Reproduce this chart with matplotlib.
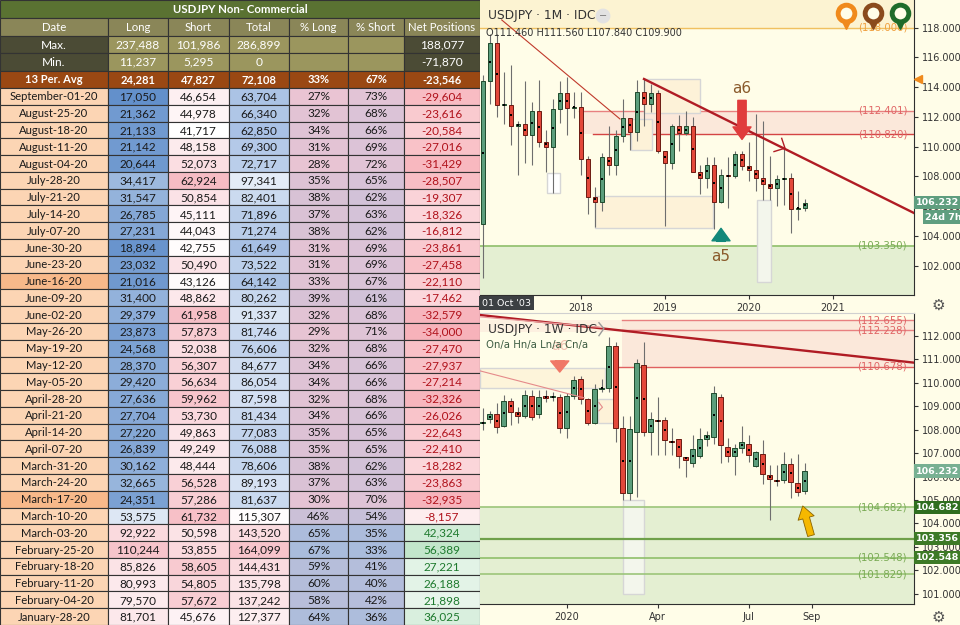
import numpy as np
import matplotlib
matplotlib.use('Agg')
import matplotlib.pyplot as plt
from matplotlib.patches import Rectangle
from matplotlib.colors import to_rgb

# ---------------- table data (COT, USDJPY non-commercial)
dates = ["September-01-20", "August-25-20", "August-18-20", "August-11-20", "August-04-20",
         "July-28-20", "July-21-20", "July-14-20", "July-07-20", "June-30-20", "June-23-20",
         "June-16-20", "June-09-20", "June-02-20", "May-26-20", "May-19-20", "May-12-20",
         "May-05-20", "April-28-20", "April-21-20", "April-14-20", "April-07-20", "March-31-20",
         "March-24-20", "March-17-20", "March-10-20", "March-03-20", "February-25-20",
         "February-18-20", "February-11-20", "February-04-20", "January-28-20"]
longs = [17050, 21362, 21133, 21142, 20644, 34417, 31547, 26785, 27231, 18894, 23032, 21016,
         31400, 29379, 23873, 24568, 28370, 29420, 27636, 27704, 27220, 26839, 30162, 32665,
         24351, 53575, 92922, 110244, 85826, 80993, 79570, 81701]
shorts = [46654, 44978, 41717, 48158, 52073, 62924, 50854, 45111, 44043, 42755, 50490, 43126,
          48862, 61958, 57873, 52038, 56307, 56634, 59962, 53730, 49863, 49249, 48444, 56528,
          57286, 61732, 50598, 53855, 58605, 54805, 57672, 45676]
totals = [63704, 66340, 62850, 69300, 72717, 97341, 82401, 71896, 71274, 61649, 73522, 64142,
          80262, 91337, 81746, 76606, 84677, 86054, 87598, 81434, 77083, 76088, 78606, 89193,
          81637, 115307, 143520, 164099, 144431, 135798, 137242, 127377]
pct_long = [27, 32, 34, 31, 28, 35, 38, 37, 38, 31, 31, 33, 39, 32, 29, 32, 34, 34, 32, 34, 35,
            35, 38, 37, 30, 46, 65, 67, 59, 60, 58, 64]
pct_short = [73, 68, 66, 69, 72, 65, 62, 63, 62, 69, 69, 67, 61, 68, 71, 68, 66, 66, 68, 66, 65,
             65, 62, 63, 70, 54, 35, 33, 41, 40, 42, 36]
net_pos = [-29604, -23616, -20584, -27016, -31429, -28507, -19307, -18326, -16812, -23861,
           -27458, -22110, -17462, -32579, -34000, -27470, -27937, -27214, -32326, -26026,
           -22643, -22410, -18282, -23863, -32935, -8157, 42324, 56389, 27221, 26188, 21898, 36025]
highlight_dates = ["June-16-20", "March-17-20"]

headers = ["Date", "Long", "Short", "Total", "% Long", "% Short", "Net Positions"]
max_row = ["Max.", "237,488", "101,986", "286,899", "", "", "188,077"]
min_row = ["Min.", "11,237", "5,295", "0", "", "", "-71,870"]
avg_row = ["13 Per. Avg", "24,281", "47,827", "72,108", "33%", "67%", "-23,546"]

# ---------------- monthly candles, Nov 2016 .. Sep 2020
m_open = [104.8, 114.4, 117.0, 112.8, 112.8, 111.4, 111.5, 110.8, 112.4, 110.3, 110.0, 112.5,
          113.6, 112.6, 112.7, 109.2, 106.6, 106.3, 109.3, 108.8, 110.7, 111.9, 111.0, 113.7,
          112.9, 113.6, 109.7, 108.9, 111.4, 110.9, 111.4, 108.3, 107.9, 108.8, 106.3, 108.1,
          108.0, 109.5, 108.7, 108.4, 107.9, 107.5, 107.2, 107.8, 107.9, 105.8, 105.9]
m_high = [114.8, 117.6, 117.6, 115.0, 115.5, 111.7, 114.4, 113.0, 114.5, 111.1, 113.2, 114.4,
          114.7, 113.7, 113.7, 109.4, 107.3, 109.6, 111.4, 111.1, 113.2, 111.9, 114.5, 114.6,
          114.2, 113.8, 109.7, 111.5, 112.1, 112.4, 112.0, 108.8, 109.3, 109.3, 108.5, 109.3,
          109.7, 109.7, 110.3, 112.2, 111.7, 109.4, 108.1, 109.9, 108.2, 107.0, 106.5]
m_low = [101.2, 112.9, 112.0, 111.5, 110.1, 108.1, 108.9, 108.8, 110.0, 108.3, 106.9, 111.6,
         110.8, 111.9, 108.1, 105.5, 104.6, 105.7, 108.1, 108.1, 110.3, 109.8, 110.4, 111.4,
         112.3, 109.6, 104.7, 108.5, 109.7, 110.8, 108.3, 106.8, 107.2, 104.5, 106.2, 105.9,
         107.9, 108.4, 107.7, 107.0, 106.4, 106.4, 106.0, 106.1, 104.2, 105.1, 105.7]
m_close = [114.4, 117.0, 112.8, 112.8, 111.4, 111.5, 110.8, 112.4, 110.3, 110.0, 112.5, 113.6,
           112.6, 112.7, 109.2, 106.6, 106.3, 109.3, 108.8, 110.7, 111.9, 111.0, 113.7, 112.9,
           113.6, 109.7, 108.9, 111.4, 110.9, 111.4, 108.3, 107.9, 108.8, 106.3, 108.1, 108.0,
           109.5, 108.7, 108.4, 107.9, 107.5, 107.2, 107.8, 107.9, 105.8, 105.9, 106.2]
m_ticks = [14, 26, 38, 50]
m_ticklabels = ["2018", "2019", "2020", "2021"]

# ---------------- weekly candles, Oct 14 2019 .. Aug 31 2020
w_open = [108.28, 108.44, 108.65, 108.17, 109.23, 108.76, 108.58, 109.43, 108.65, 109.40,
          109.38, 109.37, 108.05, 109.43, 110.14, 109.29, 108.29, 109.72, 109.76, 111.56,
          108.05, 105.31, 107.91, 110.75, 107.88, 108.40, 108.41, 107.50, 107.60, 106.85,
          106.59, 106.88, 107.60, 107.67, 109.40, 107.25, 106.86, 107.20, 107.37, 106.46,
          106.95, 106.07, 105.84, 105.85, 106.53, 105.71, 105.37]
w_high = [108.90, 108.77, 109.12, 109.47, 109.33, 108.97, 109.69, 109.69, 109.69, 109.69,
          109.62, 109.50, 109.55, 110.30, 110.30, 109.35, 109.94, 110.14, 111.93, 111.74,
          108.58, 108.58, 111.00, 111.74, 108.76, 109.40, 108.52, 108.05, 107.60, 106.85,
          107.77, 108.08, 107.94, 109.86, 109.50, 107.63, 107.40, 108.15, 107.77, 107.10,
          107.56, 106.49, 106.49, 107.06, 106.78, 106.95, 106.56]
w_low = [107.98, 108.27, 107.87, 108.10, 108.20, 108.27, 108.50, 108.41, 108.50, 109.19,
         109.20, 107.84, 107.63, 109.30, 109.10, 108.20, 108.25, 109.61, 109.60, 107.48,
         105.00, 105.00, 105.14, 107.73, 106.92, 106.92, 106.92, 106.92, 106.35, 105.97,
         106.40, 106.80, 107.30, 107.40, 106.59, 106.63, 106.07, 107.00, 106.63, 106.40,
         105.67, 104.15, 105.59, 105.71, 105.07, 105.17, 105.26]
w_close = [108.32, 108.65, 108.12, 109.22, 108.76, 108.58, 109.47, 108.55, 109.37, 109.36,
           109.42, 108.05, 109.43, 110.11, 109.29, 108.29, 109.72, 109.78, 111.56, 108.05,
           105.31, 108.01, 110.82, 107.88, 108.44, 108.36, 107.54, 107.46, 106.88, 106.70,
           107.16, 107.58, 107.76, 109.57, 107.33, 106.86, 107.20, 107.46, 106.92, 107.03,
           106.10, 105.90, 105.80, 106.53, 105.78, 105.33, 106.22]
w_ticks = [12, 25, 38, 47]
w_ticklabels = ["2020", "Apr", "Jul", "Sep"]

TABLE_FONT = ['Lato', 'DejaVu Sans']
CREAM = '#fffde8'
GREEN_C, GREEN_E = '#5c9e7c', '#1f4a2c'
RED_C, RED_E = '#e3483a', '#6b1a12'


def mix(c1, c2, t):
    a, b = np.array(to_rgb(c1)), np.array(to_rgb(c2))
    t = min(max(t, 0), 1)
    return tuple(a + (b - a) * t)


def scale3(v, vmin, vmax, clo, chi, mid=None):
    if mid is None:
        mid = (vmin + vmax) / 2
    if v <= mid:
        return mix('#ffffff', clo, (mid - v) / (mid - vmin))
    return mix('#ffffff', chi, (v - mid) / (vmax - mid))


fig = plt.figure(figsize=(9.6, 6.25), dpi=100)
fig.patches.append(Rectangle((0.5, 0), 0.5, 1, transform=fig.transFigure,
                             facecolor=CREAM, edgecolor='none', zorder=-10))


def fx(px):
    return px / 960


def fy(py):
    return 1 - py / 625


### Table
tab = fig.add_axes([0, 0, 0.5, 1])
tab.set_xlim(0, 480)
tab.set_ylim(625, 0)
tab.axis('off')
col_x = [0, 108, 168, 229, 289, 348, 404, 480]


def cell(x0, x1, y0, y1, fc, txt='', color='white', bold=False, size=8.0):
    tab.add_patch(Rectangle((x0, y0), x1 - x0, y1 - y0, facecolor=fc,
                            edgecolor='#333333', lw=0.8))
    if txt:
        tab.text((x0 + x1) / 2, (y0 + y1) / 2 + 0.6, txt, ha='center', va='center',
                 color=color, fontsize=size, family=TABLE_FONT,
                 fontweight='bold' if bold else 'normal')


cell(0, 480, 0, 18, '#5a7232', 'USDJPY Non- Commercial', bold=True, size=8.2)
for i, h in enumerate(headers):
    cell(col_x[i], col_x[i + 1], 18, 36, '#8a8658', h, size=8.2)
for row, (y0, y1) in zip([max_row, min_row], [(36, 53), (53, 70.5)]):
    for i, t in enumerate(row):
        fc = '#4b4b35' if i in (0, 6) else '#9b965e'
        cell(col_x[i], col_x[i + 1], y0, y1, fc, t, size=8.6)
for i, t in enumerate(avg_row):
    cell(col_x[i], col_x[i + 1], 70.5, 88, '#9a4813', t, bold=True, size=8.0)

rh = (625 - 88) / len(dates)
num_size = 8.5
for k, d in enumerate(dates):
    y0 = 88 + k * rh
    y1 = y0 + rh
    dc = '#f8b98a' if d in highlight_dates else '#fcd5b4'
    cell(col_x[0], col_x[1], y0, y1, dc, d, color='#1a1a1a', size=8.1)
    cell(col_x[1], col_x[2], y0, y1,
         scale3(longs[k], min(longs), max(longs), '#6390cb', '#f7c4cb'),
         f"{longs[k]:,}", color='#1a1a1a', size=num_size)
    cell(col_x[2], col_x[3], y0, y1,
         mix('#ffffff', '#f6bcc4', (shorts[k] - min(shorts)) / (max(shorts) - min(shorts))),
         f"{shorts[k]:,}", color='#1a1a1a', size=num_size)
    cell(col_x[3], col_x[4], y0, y1,
         scale3(totals[k], min(totals), max(totals), '#a7c0e4', '#f7c4cb'),
         f"{totals[k]:,}", color='#1a1a1a', size=num_size)
    cell(col_x[4], col_x[5], y0, y1,
         mix('#eac4d3', '#a9bcdc', (pct_long[k] - min(pct_long)) / (max(pct_long) - min(pct_long))),
         f"{pct_long[k]}%", color='#1a1a1a', size=num_size)
    cell(col_x[5], col_x[6], y0, y1,
         mix('#a9bcdc', '#e2c4d6', (pct_short[k] - min(pct_short)) / (max(pct_short) - min(pct_short))),
         f"{pct_short[k]}%", color='#1a1a1a', size=num_size)
    cell(col_x[6], col_x[7], y0, y1,
         scale3(net_pos[k], min(net_pos), max(net_pos), '#f7b2ba', '#c3e6cb', mid=0),
         f"{net_pos[k]:,}", color='#b0121b' if net_pos[k] < 0 else '#1e7a2e', size=num_size)


### Candlestick helper
def candles(ax, o, h, l, c, min_body):
    o, h, l, c = map(np.array, (o, h, l, c))
    x = np.arange(len(o))
    up = c >= o
    ax.vlines(x, l, h, color='#6e6e6e', lw=0.8, zorder=3)
    bottom = np.minimum(o, c)
    height = np.maximum(np.abs(c - o), min_body)
    ax.bar(x[up], height[up], 0.7, bottom[up], color=GREEN_C, edgecolor=GREEN_E, lw=0.7, zorder=4)
    ax.bar(x[~up], height[~up], 0.7, bottom[~up], color=RED_C, edgecolor=RED_E, lw=0.7, zorder=4)
    ax.scatter(x, (o + c) / 2, marker='s', s=2.5, color='black', zorder=5, lw=0)


def style_axis(ax, ticks, labels, yticks):
    ax.set_facecolor(CREAM)
    ax.yaxis.tick_right()
    ax.set_yticks(yticks)
    ax.set_yticklabels([f"{v:.3f}" for v in yticks])
    ax.set_xticks(ticks)
    ax.set_xticklabels(labels)
    ax.tick_params(axis='both', labelsize=7, colors='#333333', length=3, pad=2.5)
    for s in ['left', 'top']:
        ax.spines[s].set_visible(False)
    for s in ['right', 'bottom']:
        ax.spines[s].set_color('#2f2f2f')


def tag(ax, p, txt, fc, x=1.004):
    ax.text(x, p, txt, transform=ax.get_yaxis_transform(), ha='left', va='center',
            fontsize=6.8, color='white', fontweight='bold', clip_on=False, zorder=8,
            bbox=dict(boxstyle='square,pad=0.22', fc=fc, ec='none'))


### Monthly chart (top)
ax_t = fig.add_axes([fx(480), fy(295), fx(434), 295 / 625])
ax_t.set_xlim(-0.43, 61.57)
ax_t.set_ylim(100.03, 119.86)
style_axis(ax_t, m_ticks, m_ticklabels, np.arange(102, 119, 2))

ax_t.axhspan(118, 120, color='#fcf3d2', zorder=0)
ax_t.axhline(118, color='#f0c060', lw=1, zorder=1)
ax_t.axhspan(99, 103.35, color='#e4efd2', zorder=0)
ax_t.axhline(103.35, color='#8fbf6a', lw=1.2, zorder=1)
ax_t.add_patch(Rectangle((13.7, 110.82), 50, 112.401 - 110.82, fc='#fbe8da', ec='none', zorder=0))
ax_t.plot([13.7, 62], [112.401, 112.401], color='#e88080', lw=1, zorder=1)
ax_t.plot([15.7, 62], [110.82, 110.82], color='#d44444', lw=1, zorder=1)

for (x0, x1, p0, p1, fc) in [(23.0, 31.0, 112.27, 114.55, '#fdf2d8'),
                             (21.2, 24.1, 109.78, 111.84, '#fdf2d8'),
                             (16.0, 32.9, 104.51, 106.66, '#fdf2d8'),
                             (9.1, 11.0, 106.91, 108.25, '#ffffff'),
                             (39.1, 41.1, 100.92, 106.42, '#f3f6ec')]:
    ax_t.add_patch(Rectangle((x0, p0), x1 - x0, p1 - p0, fc=fc, ec='#d6d6d6', lw=1, zorder=1))

candles(ax_t, m_open, m_high, m_low, m_close, 0.07)

ax_t.plot([2.67, 19.57], [118.52, 111.86], color='#c0392b', lw=0.8, zorder=6)
ax_t.plot([23, 61.57], [114.55, 105.54], color='#b01c24', lw=1.7, zorder=6)
ax_t.plot([41.57, 43.14, 42.67], [109.67, 109.9, 110.56], color='#b01c24', lw=1, zorder=6)

for lab, p, col in [("(118.000)", 118, '#f0a040'), ("(112.401)", 112.401, '#e06666'),
                    ("(110.820)", 110.82, '#e06666'), ("(103.350)", 103.35, '#7aab55')]:
    ax_t.text(60.6, p, lab, ha='right', va='center', fontsize=7.3, color=col, zorder=7)

ax_t.annotate('', xy=(37, 110.3), xytext=(37, 113.3), zorder=7,
              arrowprops=dict(arrowstyle='simple,head_width=1.3,head_length=0.9,tail_width=0.6',
                              fc='#e03c3c', ec='#e03c3c'))
ax_t.annotate('', xy=(34, 104.7), xytext=(34, 103.45), zorder=7,
              arrowprops=dict(arrowstyle='simple,head_width=1.3,head_length=0.9,tail_width=0.6',
                              fc='#12887a', ec='#12887a'))
ax_t.text(37, 113.9, 'a6', ha='center', va='center', fontsize=11, color='#8a5a2b', zorder=7)
ax_t.text(34, 102.6, 'a5', ha='center', va='center', fontsize=11, color='#8a5a2b', zorder=7)

for x, col in [(51.9, '#f08a1c'), (55.7, '#8b4a1c'), (59.6, '#1f6b2a')]:
    ax_t.plot(x, 118.3, marker='v', ms=8, color=col, clip_on=False, zorder=9)
    ax_t.plot(x, 119.0, marker='o', ms=12, mfc=CREAM, mec=col, mew=3.5, clip_on=False, zorder=9)

tag(ax_t, 106.232, '106.232', '#5f9e7f')
ax_t.text(1.025, 105.27, '24d 7h', transform=ax_t.get_yaxis_transform(), ha='left',
          va='center', fontsize=6.8, color='white', fontweight='bold', clip_on=False, zorder=8,
          bbox=dict(boxstyle='square,pad=0.22', fc='#5f9e7f', ec='none'))
ax_t.plot(1.01, 114.55, marker='<', ms=6, color='#f08a1c', clip_on=False,
          transform=ax_t.get_yaxis_transform(), zorder=8)

fig.text(fx(488), fy(16), 'USDJPY · 1M · IDC', fontsize=8.8, color='#333333', va='center')
fig.text(fx(603), fy(16), '−', fontsize=7, color='#777777', ha='center', va='center',
         bbox=dict(boxstyle='circle,pad=0.25', fc='#e2e2e2', ec='none'))
fig.text(fx(486), fy(33), 'O111.460 H111.560 L107.840 C109.900', fontsize=7,
         color='#333333', va='center')
fig.text(fx(482), fy(303), "01 Oct '03", fontsize=6.8, color='white', va='center',
         bbox=dict(boxstyle='square,pad=0.3', fc='#3c4043', ec='none'))
fig.text(fx(938), fy(305), '\u2699', fontsize=11, color='#555555', ha='center', va='center')

### Weekly chart (bottom)
ax_b = fig.add_axes([fx(480), fy(604), fx(434), (604 - 313) / 625])
ax_b.set_xlim(-0.39, 61.6)
ax_b.set_ylim(100.57, 112.965)
style_axis(ax_b, w_ticks, w_ticklabels, np.arange(101, 113, 1))
ax_b.spines['top'].set_visible(True)
ax_b.spines['top'].set_color('#d0d0d0')

ax_b.axhspan(99, 104.682, color='#e4efd2', zorder=0)
ax_b.add_patch(Rectangle((19.9, 110.678), 45, 112.655 - 110.678, fc='#fbe8da', ec='none', zorder=0))
ax_b.add_patch(Rectangle((-0.4, 112.16), 20.3, 0.51, fc='#fdf0e0', ec='none', zorder=0))
for (x0, x1, p0, p1, fc) in [(-0.4, 17.4, 109.76, 110.64, '#fdf4da'),
                             (16.5, 19.1, 108.3, 109.3, '#fdf2d8'),
                             (20.0, 23.05, 101.0, 105.0, '#f3f6ec')]:
    ax_b.add_patch(Rectangle((x0, p0), x1 - x0, p1 - p0, fc=fc, ec='#d6d6d6', lw=1, zorder=1))

for p, col, lw in [(104.682, '#9cc57a', 1.2), (103.356, '#6fa04a', 1.6),
                   (102.548, '#8fbf6a', 1.2), (101.829, '#9cc57a', 1.2)]:
    ax_b.axhline(p, color=col, lw=lw, zorder=1)
ax_b.plot([19.9, 62], [112.655, 112.655], color='#e88080', lw=1, zorder=1)
ax_b.plot([19.9, 62], [112.228, 112.228], color='#e88080', lw=1, zorder=1)
ax_b.plot([19.2, 62], [110.678, 110.678], color='#e06060', lw=1, zorder=1)

candles(ax_b, w_open, w_high, w_low, w_close, 0.05)

ax_b.plot([-0.39, 61.6], [112.88, 110.85], color='#b01c24', lw=1.7, zorder=6)
ax_b.plot([-0.39, 17.0], [112.8, 112.35], color='#e8a0a0', lw=0.9, zorder=6)
ax_b.plot([16.6, 17.3, 16.6], [112.55, 112.3, 112.0], color='#9a9a9a', lw=1, zorder=6)
ax_b.plot([-0.39, 14.5], [110.5, 109.35], color='#e58a8a', lw=0.8, zorder=6)
ax_b.plot([16.6, 17.1, 16.6], [109.15, 108.95, 108.8], color='#e58a8a', lw=0.8, zorder=6)

for lab, p, col in [("(112.655)", 112.655, '#e06666'), ("(112.228)", 112.228, '#e06666'),
                    ("(110.678)", 110.678, '#e06666'), ("(104.682)", 104.682, '#7aab55'),
                    ("(102.548)", 102.548, '#7aab55'), ("(101.829)", 101.829, '#7aab55')]:
    ax_b.text(60.6, p, lab, ha='right', va='center', fontsize=7.3, color=col, zorder=7)

ax_b.text(11, 111.55, 'a6', ha='center', va='center', fontsize=10, color='#f0c0b0', zorder=2)
ax_b.annotate('', xy=(11, 110.33), xytext=(11, 111.05), zorder=7,
              arrowprops=dict(arrowstyle='simple,head_width=1.3,head_length=0.8,tail_width=0.6',
                              fc='#f07868', ec='#f07868'))
ax_b.annotate('', xy=(45.6, 104.86), xytext=(47.0, 103.37), zorder=7,
              arrowprops=dict(arrowstyle='simple,head_width=1.2,head_length=0.9,tail_width=0.5',
                              fc='#f5b800', ec='#8a6400', lw=0.6))

tag(ax_b, 106.232, '106.232', '#78b092')
tag(ax_b, 104.682, '104.682', '#2f6e1f')
tag(ax_b, 103.356, '103.356', '#3d7a26')
tag(ax_b, 102.548, '102.548', '#3d7a26')

fig.text(fx(488), fy(329), 'USDJPY · 1W · IDC', fontsize=8.8, color='#333333', va='center')
fig.text(fx(486), fy(345), 'On/a Hn/a Ln/a Cn/a', fontsize=7.3, color='#3a5a40', va='center')
fig.text(fx(938), fy(617), '\u2699', fontsize=11, color='#555555', ha='center', va='center')

fig.savefig('out.png', dpi=100)
